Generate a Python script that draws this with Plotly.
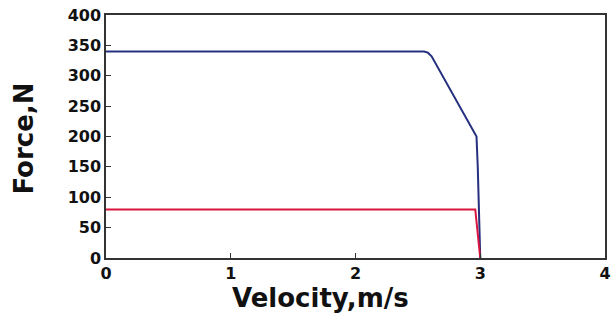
import plotly.graph_objects as go

# Data
blue_v = [0, 2.55, 2.58, 2.61, 2.97, 2.98, 3.0]
blue_f = [340, 340, 338, 332, 200, 150, 0]
red_v = [0, 2.96, 3.0]
red_f = [80, 80, 0]

x_ticks = [0, 1, 2, 3, 4]
y_ticks = [0, 50, 100, 150, 200, 250, 300, 350, 400]

FONT = "DejaVu Sans"

fig = go.Figure()
fig.add_trace(go.Scatter(x=blue_v, y=blue_f, mode="lines",
                         line=dict(color="#25307e", width=2), showlegend=False))
fig.add_trace(go.Scatter(x=red_v, y=red_f, mode="lines",
                         line=dict(color="#d8153d", width=2), showlegend=False))

axis_common = dict(showgrid=False, zeroline=False, showline=True, mirror=True,
                   linecolor="#333333", linewidth=1.5, ticks="inside",
                   ticklen=5, tickcolor="#333333", tickwidth=1.2, automargin=False,
                   tickfont=dict(family=FONT, size=16, color="#111111", weight="bold"))

fig.update_xaxes(range=[0, 4], tickvals=x_ticks, **axis_common)
fig.update_yaxes(range=[0, 400], tickvals=y_ticks, **axis_common)

fig.add_annotation(text="<b>Velocity,m/s</b>", xref="paper", yref="paper",
                   x=0.43, y=-0.165, showarrow=False, yanchor="middle",
                   font=dict(family=FONT, size=26, color="#111111"))
fig.add_annotation(text="<b>Force,N</b>", xref="paper", yref="paper",
                   x=-0.165, y=0.49, showarrow=False, textangle=-90,
                   xanchor="center", yanchor="middle",
                   font=dict(family=FONT, size=26, color="#111111"))

fig.update_layout(width=612, height=315,
                  margin=dict(l=106, r=7, t=15, b=57),
                  paper_bgcolor="white", plot_bgcolor="white")

fig.write_html("out.html", config={"displayModeBar": False},
               post_script="document.body.style.margin='0';document.body.style.overflow='hidden';")
